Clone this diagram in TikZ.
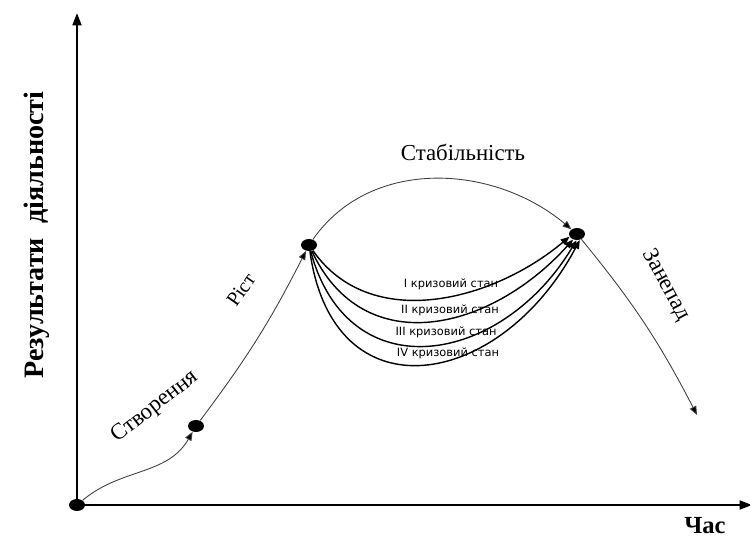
\documentclass[tikz,border=0pt]{standalone}
\usepackage{fontspec}
\setmainfont{Liberation Serif}
\newfontfamily\crisisfont{DejaVu Sans}
\usetikzlibrary{arrows.meta,shapes.geometric}
\begin{document}
\begin{tikzpicture}[x=0.02cm,y=0.02cm,
dot/.style={ellipse,fill,inner sep=0pt,minimum width=0.32cm,minimum height=0.24cm},
axis/.style={line width=1.3pt,-{Triangle[length=7pt,width=5pt]}},
phase/.style={black!75,line width=0.5pt,-{Triangle[length=5pt,width=4pt,fill=black]}},
crisis/.style={line width=0.8pt,-{Triangle[length=5pt,width=4pt]}},
lbl/.style={font=\fontsize{13}{15}\selectfont},
clbl/.style={font=\crisisfont\fontsize{6.5}{8}\selectfont}]
\useasboundingbox(0,0)rectangle(750,540);
\coordinate(ytop)at(77,527);\coordinate(xend)at(752,35);\coordinate(e)at(697,125);
\draw[axis](77,35)--(ytop);\draw[axis](77,35)--(xend);
\node[dot](o)at(77,35){};\node[dot](a)at(196,114){};
\node[dot](b)at(309,295){};\node[dot](c)at(577,306){};
% phases of the cycle
\draw[phase](o)to[out=40,in=-120](a);
\draw[phase](a)to[bend right=5](b);
\draw[phase](b)to[out=55,in=140](c);
\draw[phase](c)to[bend left=6](e);
% crisis states
\foreach\o/\i/\l/\a in{-55/-140/1/-160,-65/-132/1.2/-125,-75/-121/1.4/-95,-82/-118/1.6/-65}{
\draw[crisis](b)to[out=\o,in=\i,looseness=\l](c.\a);}
\node[clbl]at(451,256){I кризовий стан};
\node[clbl]at(450,230){II кризовий стан};
\node[clbl]at(446,208){III кризовий стан};
\node[clbl]at(448,187){IV кризовий стан};
\node[lbl]at(463,388){Стабільність};
\node[lbl,rotate=38]at(155,133){Створення};
\node[font=\fontsize{11.5}{13}\selectfont,rotate=55]at(241,250){Ріст};
\node[lbl,rotate=-62]at(666,255){Занепад};
\node[font=\bfseries\fontsize{16}{18}\selectfont,rotate=90]at(37,305){Результати~~діяльності};
\node[font=\bfseries\fontsize{14}{16}\selectfont]at(705,14){Час};
\end{tikzpicture}
\end{document}
